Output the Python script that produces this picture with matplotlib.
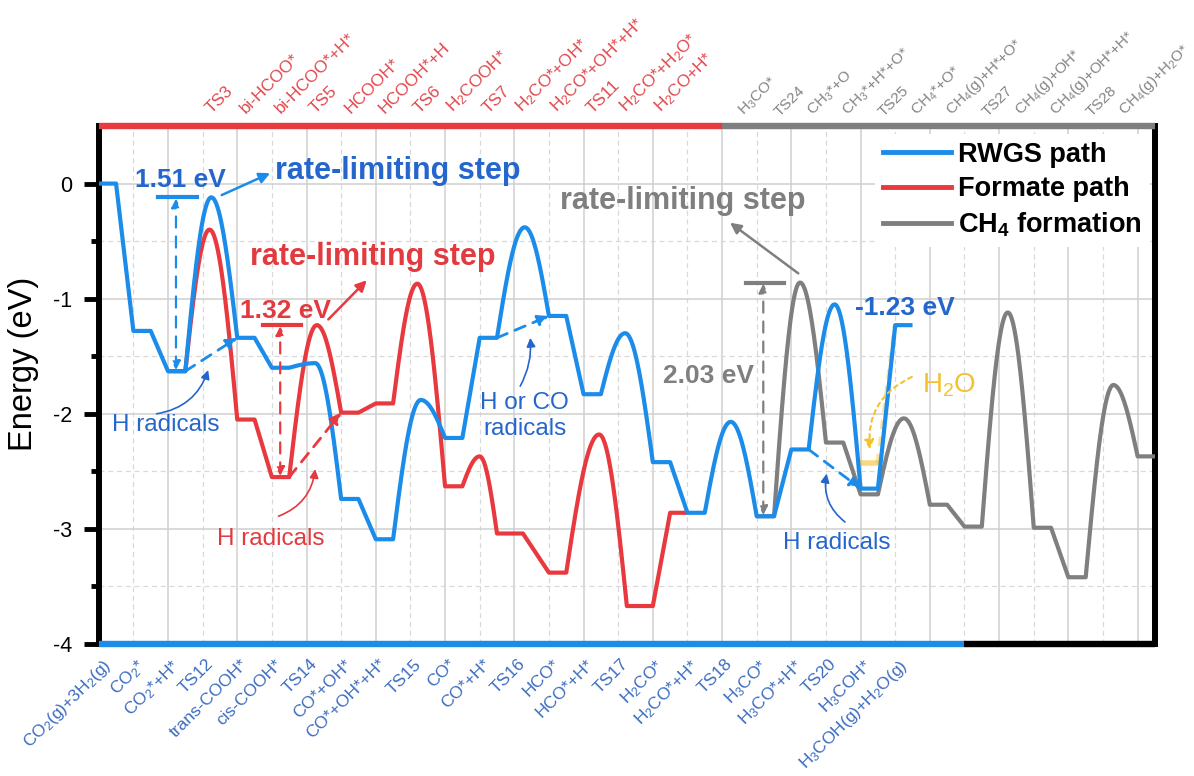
import numpy as np
import matplotlib
matplotlib.use("Agg")
import matplotlib.pyplot as plt
from matplotlib.lines import Line2D

plt.rcParams['font.family'] = ['Liberation Sans', 'DejaVu Sans']
plt.rcParams['mathtext.fontset'] = 'custom'
plt.rcParams['mathtext.rm'] = 'Liberation Sans'
plt.rcParams['mathtext.it'] = 'Liberation Sans:italic'
plt.rcParams['mathtext.bf'] = 'Liberation Sans:bold'
plt.rcParams['mathtext.default'] = 'regular'

# ---------------- data ----------------
# RWGS (COOH*) route, states listed along the bottom axis
rwgs_labels = ['CO$_2$(g)+3H$_2$(g)', 'CO$_2$*', 'CO$_2$*+H*', 'TS12', 'trans-COOH*',
               'cis-COOH*', 'TS14', 'CO*+OH*', 'CO*+OH*+H*', 'TS15', 'CO*', 'CO*+H*',
               'TS16', 'HCO*', 'HCO*+H*', 'TS17', 'H$_2$CO*', 'H$_2$CO*+H*', 'TS18',
               'H$_3$CO*', 'H$_3$CO*+H*', 'TS20', 'H$_3$COH*', 'H$_3$COH(g)+H$_2$O(g)']
rwgs_energy = [0.00, -1.28, -1.63, -0.12, -1.34, -1.60, -1.56, -2.74, -3.09, -1.88,
               -2.21, -1.34, -0.38, -1.15, -1.83, -1.30, -2.42, -2.86, -2.07, -2.89,
               -2.31, -1.05, -2.65, -1.23]
rwgs_coord = [0, 1, 2, 3.25, 4, 5, 6.25, 7, 8, 9.3, 10, 11, 12.3, 13, 14, 15.2, 16, 17,
              18.25, 19, 20, 21.25, 22, 23]

# Formate route, states listed along the top axis (red)
formate_labels = ['CO$_2$*+H*', 'TS3', 'bi-HCOO*', 'bi-HCOO*+H*', 'TS5', 'HCOOH*',
                  'HCOOH*+H', 'TS6', 'H$_2$COOH*', 'TS7', 'H$_2$CO*+OH*',
                  'H$_2$CO*+OH*+H*', 'TS11', 'H$_2$CO*+H$_2$O*', 'H$_2$CO+H*']
formate_energy = [-1.63, -0.40, -2.05, -2.55, -1.23, -1.99, -1.91, -0.87, -2.63, -2.37,
                  -3.04, -3.38, -2.18, -3.67, -2.86]
formate_coord = [2, 3.2, 4, 5, 6.3, 7, 8, 9.2, 10, 11.0, 11.5, 13, 14.45, 15.25, 16.5]
formate_width = [0.5, 0, 0.5, 0.5, 0, 0.5, 0.5, 0, 0.5, 0, 0.75, 0.5, 0, 0.75, 0.5]

# CH4 formation from H3CO*, states listed along the top axis (grey)
ch4_labels = ['H$_3$CO*', 'TS24', 'CH$_3$*+O', 'CH$_3$*+H*+O*', 'TS25', 'CH$_4$*+O*',
              'CH$_4$(g)+H*+O*', 'TS27', 'CH$_4$(g)+OH*', 'CH$_4$(g)+OH*+H*', 'TS28',
              'CH$_4$(g)+H$_2$O*']
ch4_energy = [-2.89, -0.86, -2.25, -2.70, -2.04, -2.79, -2.98, -1.12, -2.99, -3.42,
              -1.75, -2.37]
ch4_coord = [19, 20.25, 21, 22, 23.25, 24, 25, 26.25, 27, 28, 29.3, 30]

# water desorption from H3COH*
h2o_energy = [-2.43, -1.23]

# ---------------- style ----------------
BLUE = '#1B8CE9'
RED = '#E8393E'
GRAY = '#7F7F7F'
BLUE_TXT = '#2566CC'
RED_TXT = '#E23A3F'
YELLOW = '#F4C12F'
LBL_BLUE = '#3C6DC0'
LBL_RED = '#E0484D'
LBL_GRAY = '#858585'

fig = plt.figure(figsize=(11.94, 7.76), dpi=100)
ax = fig.add_axes([0.0827, 0.1701, 0.8846, 0.6675])
ax.set_xlim(0, 30.5)
ax.set_ylim(-4, 0.5)

ax.set_xticks(np.arange(0, 31, 2))
ax.set_xticks(np.arange(1, 31, 2), minor=True)
ax.set_yticks(np.arange(-4, 0.1, 1))
ax.set_yticks(np.arange(-3.5, 0.1, 1), minor=True)
ax.set_yticklabels(['-4', '-3', '-2', '-1', '0'])
ax.set_axisbelow(True)
ax.grid(which='major', color='#cfcfcf', lw=1.1, ls='-')
ax.grid(which='minor', color='#d9d9d9', lw=0.9, ls=(0, (4, 3)))
ax.tick_params(axis='x', which='both', length=0, labelbottom=False)
ax.tick_params(axis='y', which='major', length=11, width=3.5, direction='out',
               labelsize=15.5, pad=8)
ax.tick_params(axis='y', which='minor', length=6, width=3.5, direction='out')
ax.set_ylabel('Energy (eV)', fontsize=23.5)
ax.yaxis.set_label_coords(-0.057, 0.54)

for s in ('top', 'bottom'):
    ax.spines[s].set_visible(False)
for s in ('left', 'right'):
    ax.spines[s].set_linewidth(4.3)

# coloured frame bars marking which path the axis labels belong to
xt = ax.get_xaxis_transform()
bar_kw = dict(transform=xt, clip_on=False, lw=4.6, solid_capstyle='butt', zorder=6)
ax.plot([0, 18], [1, 1], color=RED, **bar_kw)
ax.plot([18, 30.5], [1, 1], color=GRAY, **bar_kw)
ax.plot([0, 25], [0, 0], color=BLUE, **bar_kw)
ax.plot([25, 30.5], [0, 0], color='black', **bar_kw)


def profile(labels, energy, coord, width=None):
    """Flat levels for intermediates, rounded humps for transition states."""
    xs, ys = [], []
    t = np.linspace(0, 1, 40)
    for i, (lab, e, c) in enumerate(zip(labels, energy, coord)):
        if lab.startswith('TS'):
            x0, y0 = xs[-1], ys[-1]
            x1, y1 = coord[i + 1], energy[i + 1]
            xs.extend(x0 + (c - x0) * t)
            ys.extend(y0 + (e - y0) * np.sin(0.5 * np.pi * t))
            xs.extend(c + (x1 - c) * t)
            ys.extend(y1 + (e - y1) * np.sin(0.5 * np.pi * (1 - t)))
        else:
            w = 0.5 if width is None else width[i]
            xs.extend([c, c + w])
            ys.extend([e, e])
    return np.array(xs), np.array(ys)


line_kw = dict(lw=3.0, solid_joinstyle='round', solid_capstyle='butt')
ax.plot(*profile(formate_labels, formate_energy, formate_coord, formate_width),
        color=RED, zorder=3, **line_kw)
ax.plot(*profile(ch4_labels, ch4_energy, ch4_coord), color=GRAY, zorder=3.5, **line_kw)

# water leaving H3COH*
ax.plot([22.0, 22.5], [h2o_energy[0]] * 2, color=YELLOW, lw=4, alpha=0.6, zorder=3.7)
ax.plot([22.5, 23.0], h2o_energy, color=YELLOW, lw=3.5, alpha=0.45,
        ls=(0, (2, 1.5)), zorder=3.7)

ax.plot(*profile(rwgs_labels, rwgs_energy, rwgs_coord), color=BLUE, zorder=4, **line_kw)

# ---------------- axis category labels ----------------
for k, lab in enumerate(rwgs_labels):
    ax.annotate(lab, xy=(k, 0), xycoords=xt, xytext=(2, -9), textcoords='offset points',
                rotation=45, ha='right', va='top', rotation_mode='anchor',
                fontsize=12.5, color=LBL_BLUE, annotation_clip=False)
for k, lab in enumerate(formate_labels[1:]):
    ax.annotate(lab, xy=(3 + k, 1), xycoords=xt, xytext=(8, 7), textcoords='offset points',
                rotation=45, ha='left', va='bottom', rotation_mode='anchor',
                fontsize=12.3, color=LBL_RED, annotation_clip=False)
for k, lab in enumerate(ch4_labels):
    ax.annotate(lab, xy=(19 + k, 1), xycoords=xt, xytext=(-7, 5), textcoords='offset points',
                rotation=45, ha='left', va='bottom', rotation_mode='anchor',
                fontsize=11, color=LBL_GRAY, annotation_clip=False)

# ---------------- annotations ----------------
def barrier(x, e_low, e_high, bar_x, color):
    ax.plot(bar_x, [e_high, e_high], color=color, lw=3, zorder=5)
    ax.annotate('', xy=(x, e_high - 0.01), xytext=(x, e_low + 0.01),
                arrowprops=dict(arrowstyle='<|-|>', color=color, lw=1.6,
                                ls=(0, (5, 4)), mutation_scale=13,
                                shrinkA=0, shrinkB=0), zorder=5)


def arrow(p0, p1, color, ls='-', rad=0.0, lw=1.8, ms=16):
    ax.annotate('', xy=p1, xytext=p0,
                arrowprops=dict(arrowstyle='-|>', color=color, lw=lw, ls=ls,
                                mutation_scale=ms, shrinkA=0, shrinkB=0,
                                connectionstyle=f'arc3,rad={rad}'), zorder=5)


big = dict(fontsize=22, fontweight='bold', ha='left', va='center')
ev = dict(fontsize=19, fontweight='bold', ha='left', va='center')
small = dict(fontsize=17.5, ha='left', va='center')

# RWGS rate-limiting barrier (CO2*+H* -> TS12)
e_is, e_ts = rwgs_energy[2], rwgs_energy[3]
barrier(2.23, e_is, e_ts, [1.72, 2.83], BLUE)
ax.text(1.05, 0.03, f'{e_ts - e_is:.2f} eV', color=BLUE_TXT, **ev)
arrow((3.55, -0.10), (4.95, 0.09), BLUE)
ax.text(5.1, 0.11, 'rate-limiting step', color=BLUE_TXT, **big)

# Formate rate-limiting barrier (bi-HCOO*+H* -> TS5)
e_is, e_ts = formate_energy[3], formate_energy[4]
barrier(5.24, e_is, e_ts, [4.75, 5.83], RED)
ax.text(4.08, -1.11, f'{e_ts - e_is:.2f} eV', color=RED_TXT, **ev)
arrow((6.63, -1.18), (7.74, -0.84), RED)
ax.text(4.37, -0.64, 'rate-limiting step', color=RED_TXT, **big)

# CH4 rate-limiting barrier (H3CO* -> TS24)
e_is, e_ts = ch4_energy[0], ch4_energy[1]
barrier(19.19, e_is, e_ts, [18.7, 19.8], GRAY)
ax.text(16.3, -1.675, f'{e_ts - e_is:.2f} eV', color=GRAY, **ev)
arrow((20.2, -0.78), (18.23, -0.34), GRAY)
ax.text(13.32, -0.15, 'rate-limiting step', color=GRAY, **big)

# overall reaction energy
ax.text(21.84, -1.08, f'{rwgs_energy[-1]:.2f} eV', color=BLUE_TXT, **ev)

# hydrogen-radical assisted shortcuts
arrow((rwgs_coord[2] + 0.5, rwgs_energy[2]), (rwgs_coord[4], rwgs_energy[4]), BLUE,
      ls=(0, (4, 3)), lw=2)
arrow((formate_coord[3] + 0.5, formate_energy[3]), (formate_coord[5], formate_energy[5]),
      RED, ls=(0, (4, 3)), lw=2)
arrow((rwgs_coord[11] + 0.5, rwgs_energy[11]), (rwgs_coord[13], rwgs_energy[13]), BLUE,
      ls=(0, (4, 3)), lw=2)
arrow((rwgs_coord[20] + 0.5, rwgs_energy[20]), (rwgs_coord[22], rwgs_energy[22]), BLUE,
      ls=(0, (4, 3)), lw=2)

arrow((1.67, -2.0), (3.16, -1.62), BLUE_TXT, rad=0.3, lw=1.2, ms=13)
ax.text(0.38, -2.10, 'H radicals', color=BLUE_TXT, **small)
arrow((5.19, -2.89), (6.25, -2.48), RED_TXT, rad=0.3, lw=1.2, ms=13)
ax.text(3.41, -3.09, 'H radicals', color=RED_TXT, **small)
arrow((12.17, -1.76), (12.46, -1.34), BLUE_TXT, rad=0.15, lw=1.2, ms=13)
ax.text(12.3, -2.02, 'H or CO\nradicals', color=BLUE_TXT, fontsize=17.5, ha='center',
        va='center', linespacing=1.25)
arrow((21.55, -2.94), (21.02, -2.52), BLUE_TXT, rad=-0.3, lw=1.2, ms=13)
ax.text(19.75, -3.12, 'H radicals', color=BLUE_TXT, **small)

arrow((23.48, -1.68), (22.27, -2.31), YELLOW, ls=(0, (2, 2)), rad=0.35, lw=1.5, ms=14)
ax.text(23.76, -1.75, 'H$_2$O', color=YELLOW, fontsize=20, ha='left', va='center')

# ---------------- legend ----------------
handles = [Line2D([], [], color=BLUE, lw=3.5),
           Line2D([], [], color=RED, lw=3.5),
           Line2D([], [], color=GRAY, lw=3.5)]
leg = ax.legend(handles, ['RWGS path', 'Formate path', r'CH$_\mathbf{4}$ formation'],
                loc='upper right', bbox_to_anchor=(0.995, 0.985), frameon=True,
                framealpha=1, edgecolor='none', facecolor='white',
                prop=dict(weight='bold', size=19.5), handlelength=2.5,
                handletextpad=0.25, labelspacing=0.3, borderpad=0.3, borderaxespad=0)
leg.set_zorder(7)

fig.savefig('out.png', dpi=100)
